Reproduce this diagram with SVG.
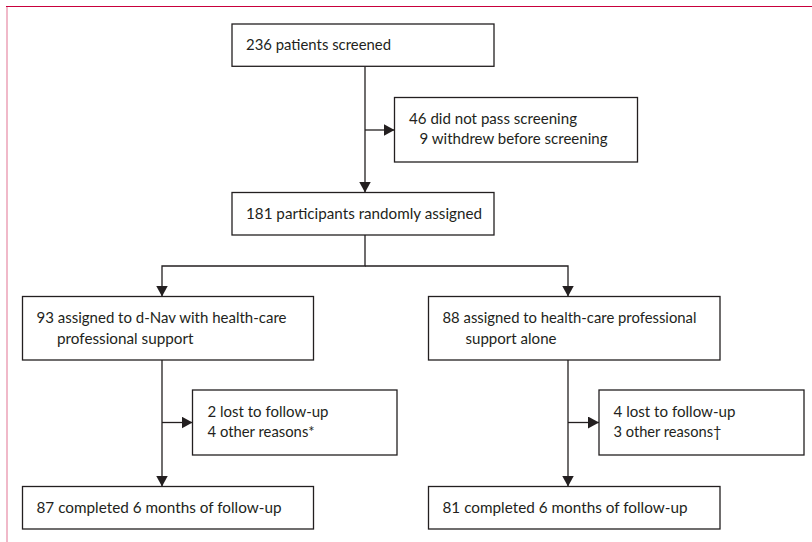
<svg xmlns="http://www.w3.org/2000/svg" width="812" height="542" viewBox="0 0 812 542">
<style>
.box{fill:#ffffff;stroke:#231f20;stroke-width:1.3}
.t{font-family:Lato,"Open Sans","Liberation Sans",sans-serif;font-size:16px;fill:#231f20}
.c{fill:none;stroke:#231f20;stroke-width:1.3}
.frame{stroke:#c8003c;stroke-width:1;fill:none}
</style>
<defs>
<marker id="ah" markerUnits="userSpaceOnUse" markerWidth="12" markerHeight="12" refX="11" refY="6" orient="auto">
<path d="M0,0 L11,6 L0,12 z" fill="#231f20"/>
</marker>
</defs>
<rect width="812" height="542" fill="#ffffff"/>
<g id="frame">
<path class="frame" d="M6,6.5 H812"/>
<path class="frame" d="M7,6 V542" stroke-opacity="0.55" stroke-width="1.6"/>
</g>
<g id="connectors">
<path class="c" d="M365,66.3 V192.5" marker-end="url(#ah)"/>
<path class="c" d="M365,130 H394.5" marker-end="url(#ah)"/>
<path class="c" d="M365,235 V266 H162 V296.5" marker-end="url(#ah)"/>
<path class="c" d="M365,266 H568 V296.5" marker-end="url(#ah)"/>
<path class="c" d="M162,360 V486.5" marker-end="url(#ah)"/>
<path class="c" d="M162,422.5 H192.5" marker-end="url(#ah)"/>
<path class="c" d="M568,360 V486.5" marker-end="url(#ah)"/>
<path class="c" d="M568,422.5 H599" marker-end="url(#ah)"/>
</g>
<g id="screened">
<rect class="box" x="232" y="24" width="262" height="42.3"/>
<text class="t" x="246" y="50" textLength="145" lengthAdjust="spacingAndGlyphs">236 patients screened</text>
</g>
<g id="excluded">
<rect class="box" x="394.5" y="97.5" width="243" height="64.5"/>
<text class="t" x="409" y="123.5" textLength="168" lengthAdjust="spacingAndGlyphs">46 did not pass screening</text>
<text class="t" x="419.5" y="144" textLength="188" lengthAdjust="spacingAndGlyphs">9 withdrew before screening</text>
</g>
<g id="randomised">
<rect class="box" x="232" y="192.5" width="262" height="42.5"/>
<text class="t" x="246" y="218.5" textLength="236" lengthAdjust="spacingAndGlyphs">181 participants randomly assigned</text>
</g>
<g id="dnav">
<rect class="box" x="22.5" y="296.5" width="291" height="63.5"/>
<text class="t" x="36.5" y="323" textLength="250" lengthAdjust="spacingAndGlyphs">93 assigned to d-Nav with health-care</text>
<text class="t" x="57" y="343.5" textLength="136.5" lengthAdjust="spacingAndGlyphs">professional support</text>
</g>
<g id="hcp">
<rect class="box" x="428.5" y="296.5" width="291.5" height="63.5"/>
<text class="t" x="442.5" y="323" textLength="254" lengthAdjust="spacingAndGlyphs">88 assigned to health-care professional</text>
<text class="t" x="465.5" y="343.5" textLength="91" lengthAdjust="spacingAndGlyphs">support alone</text>
</g>
<g id="dnav-lost">
<rect class="box" x="192.5" y="390" width="204.5" height="65"/>
<text class="t" x="207.5" y="416.5" textLength="121" lengthAdjust="spacingAndGlyphs">2 lost to follow-up</text>
<text class="t" x="207.5" y="436.5" textLength="107" lengthAdjust="spacingAndGlyphs">4 other reasons*</text>
</g>
<g id="hcp-lost">
<rect class="box" x="599" y="390" width="205" height="65"/>
<text class="t" x="613.5" y="416.5" textLength="122" lengthAdjust="spacingAndGlyphs">4 lost to follow-up</text>
<text class="t" x="613.5" y="436.5" textLength="108" lengthAdjust="spacingAndGlyphs">3 other reasons†</text>
</g>
<g id="dnav-completed">
<rect class="box" x="22.5" y="486.5" width="291" height="42.5"/>
<text class="t" x="36.5" y="512.5" textLength="245" lengthAdjust="spacingAndGlyphs">87 completed 6 months of follow-up</text>
</g>
<g id="hcp-completed">
<rect class="box" x="428.5" y="486.5" width="291.5" height="42.5"/>
<text class="t" x="442.5" y="512.5" textLength="245" lengthAdjust="spacingAndGlyphs">81 completed 6 months of follow-up</text>
</g>
</svg>
